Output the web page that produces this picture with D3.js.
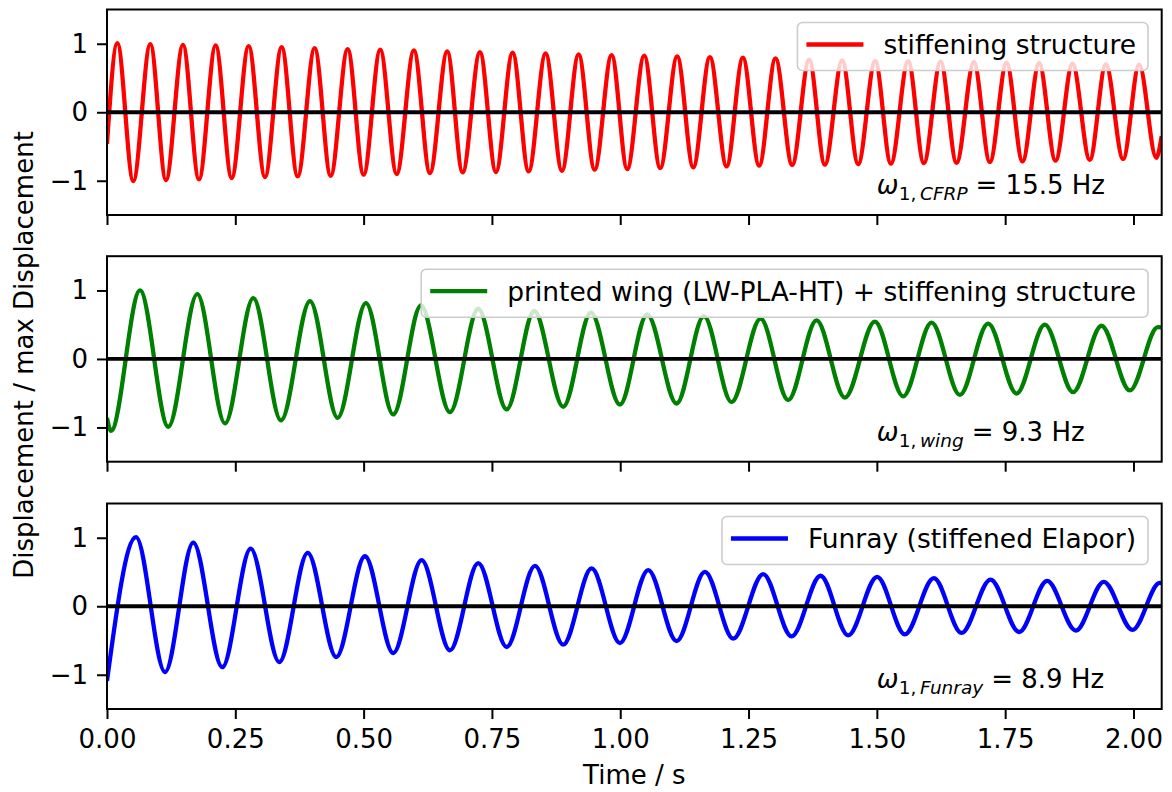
<!DOCTYPE html>
<html>
<head>
<meta charset="utf-8">
<script src="https://cdn.jsdelivr.net/npm/d3@7"></script>
<style>
  body { margin: 0; background: #fff; }
  text { font-family: "DejaVu Sans", sans-serif; }
</style>
</head>
<body>
<script>
// extrema (and end points), time in s
const stiffTime = [0, 0.0201, 0.0512, 0.0844, 0.1149, 0.148, 0.1792, 0.2117, 0.2429, 0.276, 0.3078,
  0.3403, 0.3715, 0.4046, 0.4358, 0.4689, 0.5, 0.5324, 0.5644, 0.598, 0.6292, 0.6629, 0.6929,
  0.7266, 0.7578, 0.7903, 0.8215, 0.8546, 0.8864, 0.9189, 0.9501, 0.9832, 1.0136, 1.0467, 1.0779,
  1.111, 1.1422, 1.1747, 1.2072, 1.239, 1.2707, 1.3026, 1.335, 1.3681, 1.3987, 1.4324, 1.4636,
  1.4967, 1.5273, 1.561, 1.5916, 1.6241, 1.6553, 1.689, 1.7202, 1.7527, 1.7838, 1.8162, 1.8481,
  1.8812, 1.9149, 1.9461, 1.9798, 2.011, 2.0445, 2.055];
const stiffDisp = [-0.46, 1.01, -1.004, 0.995, -0.99, 0.985, -0.98, 0.976, -0.96, 0.966, -0.946,
  0.95, -0.937, 0.937, -0.927, 0.922, -0.912, 0.913, -0.902, 0.903, -0.888, 0.889, -0.878,
  0.878, -0.873, 0.87, -0.864, 0.859, -0.854, 0.845, -0.839, 0.835, -0.829, 0.826, -0.815,
  0.815, -0.805, 0.805, -0.79, 0.796, -0.78, 0.786, -0.77, 0.767, -0.766, 0.757, -0.756,
  0.75, -0.75, 0.745, -0.742, 0.738, -0.737, 0.73, -0.727, 0.722, -0.717, 0.715, -0.707,
  0.708, -0.695, 0.70, -0.683, 0.695, -0.665, -0.35];

const wingTime = [0, 0.0078, 0.0643, 0.1194, 0.1759, 0.2299, 0.285, 0.339, 0.3955, 0.4494, 0.5045,
  0.5577, 0.6117, 0.6682, 0.7233, 0.7787, 0.8324, 0.8889, 0.9429, 0.9994, 1.0525, 1.1098, 1.163,
  1.2169, 1.2734, 1.3272, 1.3825, 1.4377, 1.4961, 1.5513, 1.6066, 1.6617, 1.7168, 1.7722, 1.8273,
  1.8824, 1.9377, 1.9929, 2.0474, 2.055];
const wingDisp = [-0.86, -1.05, 1.0, -0.99, 0.947, -0.94, 0.889, -0.897, 0.845, -0.859, 0.815,
  -0.81, 0.78, -0.776, 0.73, -0.737, 0.70, -0.698, 0.675, -0.664, 0.652, -0.65, 0.625,
  -0.63, 0.59, -0.60, 0.562, -0.566, 0.545, -0.545, 0.53, -0.525, 0.515, -0.505, 0.50,
  -0.485, 0.485, -0.46, 0.465, 0.46];

const funrayTime = [0, 0.0565, 0.113, 0.1681, 0.2246, 0.2799, 0.3357, 0.391, 0.4467, 0.5026, 0.5577,
  0.613, 0.6682, 0.7233, 0.7787, 0.8338, 0.8889, 0.9442, 0.9994, 1.0545, 1.1098, 1.165, 1.2201,
  1.2785, 1.3338, 1.3903, 1.4441, 1.5006, 1.5546, 1.611, 1.665, 1.7215, 1.7772, 1.8318, 1.8877,
  1.9422, 1.9981, 2.0513, 2.055];
const funrayDisp = [-1.09, 1.01, -0.96, 0.93, -0.89, 0.84, -0.815, 0.78, -0.742, 0.73, -0.683,
  0.673, -0.644, 0.63, -0.595, 0.59, -0.56, 0.552, -0.537, 0.527, -0.508, 0.502, -0.473,
  0.47, -0.44, 0.445, -0.425, 0.43, -0.41, 0.41, -0.39, 0.39, -0.376, 0.37, -0.355,
  0.356, -0.345, 0.34, 0.338];

const labels = ['stiffening structure', 'printed wing (LW-PLA-HT) + stiffening structure', 'Funray (stiffened Elapor)'];
const subscripts = ['CFRP', 'wing', 'Funray'];
const frequencies = ['15.5', '9.3', '8.9'];
const timeTicks = [0, 0.25, 0.5, 0.75, 1.0, 1.25, 1.5, 1.75, 2.0];
const dispTicks = [-1, 0, 1];

const seriesTime = [stiffTime, wingTime, funrayTime];
const seriesDisp = [stiffDisp, wingDisp, funrayDisp];
const colours = ['#ff0000', '#008000', '#0000ff'];

const width = 1172;
const height = 792;
const left = 107;
const right = 1161.7;
const panelTops = [9.5, 256.2, 503.5];
const panelHeight = 205.5;

const xScale = d3.scaleLinear().domain([0, 2.055]).range([left, right]);
const yScale = d3.scaleLinear().domain([-1.5, 1.5]).range([panelHeight, 0]);

const svg = d3.select('body')
              .append('svg')
                .attr('width', width)
                .attr('height', height);

const line = d3.line()
               .x((d) => xScale(d[0]))
               .y((d) => yScale(d[1]))
               .curve(d3.curveMonotoneX);

panelTops.forEach((top, i) => {
    const g = svg.append('g').attr('transform', `translate(0, ${top})`);

    g.append('clipPath').attr('id', 'clip' + i)
      .append('rect')
        .attr('x', left).attr('y', 0)
        .attr('width', right - left).attr('height', panelHeight);

    const points = seriesTime[i].map((t, k) => [t, seriesDisp[i][k]]);

    // the oscillation
    g.append('path')
       .datum(points)
       .attr('clip-path', `url(#clip${i})`)
       .attr('fill', 'none')
       .attr('stroke', colours[i])
       .attr('stroke-width', 4.3)
       .attr('stroke-linejoin', 'round')
       .attr('d', line);

    // zero line
    g.append('line')
       .attr('x1', left).attr('x2', right)
       .attr('y1', yScale(0)).attr('y2', yScale(0))
       .attr('stroke', '#000')
       .attr('stroke-width', 3.8);

    // axes
    const xAxis = g.append('g')
       .attr('transform', `translate(0, ${panelHeight})`)
       .call(d3.axisBottom(xScale)
               .tickValues(timeTicks)
               .tickSize(10)
               .tickPadding(11)
               .tickFormat(i === 2 ? d3.format('.2f') : () => ''));
    const yAxis = g.append('g')
       .attr('transform', `translate(${left}, 0)`)
       .call(d3.axisLeft(yScale)
               .tickValues(dispTicks)
               .tickSize(10)
               .tickPadding(9)
               .tickFormat(d3.format('d')));
    [xAxis, yAxis].forEach((ax) => {
        ax.select('.domain').remove();
        ax.attr('font-size', 26).attr('font-family', '"DejaVu Sans", sans-serif');
        ax.selectAll('line').attr('stroke-width', 2);
        ax.selectAll('text').attr('fill', '#000');
    });

    // frame
    g.append('rect')
       .attr('x', left).attr('y', 0)
       .attr('width', right - left).attr('height', panelHeight)
       .attr('fill', 'none')
       .attr('stroke', '#000')
       .attr('stroke-width', 2);

    // frequency note
    const note = g.append('text')
       .attr('x', xScale(1.5))
       .attr('y', yScale(-1.2))
       .attr('font-size', 26)
       .attr('fill', '#000');
    note.append('tspan').attr('font-style', 'italic').text('ω');
    note.append('tspan').attr('font-size', 18.5).attr('dy', 6).text('1,\u2009');
    note.append('tspan').attr('font-size', 18.5).attr('font-style', 'italic').text(subscripts[i]);
    note.append('tspan').attr('dy', -6).attr('dx', 8).text('= ' + frequencies[i] + ' Hz');

    // legend
    const legend = g.append('g');
    const box = legend.append('rect');
    const label = legend.append('text')
       .attr('font-size', 26.5)
       .attr('fill', '#000')
       .text(labels[i]);
    const textWidth = label.node().getComputedTextLength();
    const boxRight = right - 13.7;
    const boxLeft = boxRight - textWidth - 98;
    box.attr('x', boxLeft).attr('y', 13)
       .attr('width', boxRight - boxLeft).attr('height', 48)
       .attr('rx', 5)
       .attr('fill', '#fff').attr('fill-opacity', 0.8)
       .attr('stroke', '#cccccc').attr('stroke-width', 1.6);
    legend.append('line')
       .attr('x1', boxLeft + 9).attr('x2', boxLeft + 66)
       .attr('y1', 35).attr('y2', 35)
       .attr('stroke', colours[i])
       .attr('stroke-width', 4.3);
    label.attr('x', boxLeft + 86).attr('y', 44.5);
});

// axis labels
svg.append('text')
   .attr('x', (left + right) / 2)
   .attr('y', 784)
   .attr('text-anchor', 'middle')
   .attr('font-size', 26)
   .text('Time / s');

svg.append('text')
   .attr('transform', 'translate(33, 355) rotate(-90)')
   .attr('text-anchor', 'middle')
   .attr('font-size', 26)
   .text('Displacement / max Displacement');
</script>
</body>
</html>
